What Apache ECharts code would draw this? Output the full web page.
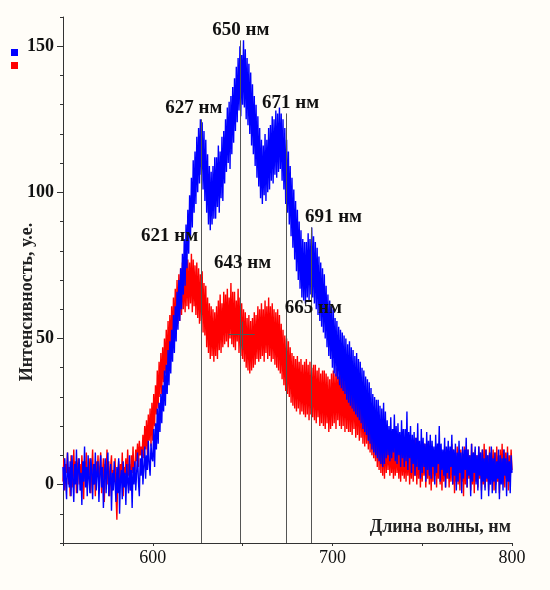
<!DOCTYPE html>
<html>
<head>
<meta charset="utf-8">
<script src="https://cdn.jsdelivr.net/npm/echarts@6/dist/echarts.min.js"></script>
<style>
  html, body { margin: 0; padding: 0; background: #fffdf8; }
  #chart { width: 550px; height: 590px; }
</style>
</head>
<body>
<div id="chart"></div>
<script>
// wavelength grid, 550..800 nm, 0.5 nm step
const wavelengths = Array.from({ length: 501 }, (_, i) => 550 + i * 0.5)

// blue spectrum (one row = 5 nm)
const blueValues = [
  6, -2, 9, 1, -5, 11, 3, -1, 8, -4,
  10, 2, -6, 7, 0, 12, -3, 5, 9, -2,
  4, -7, 8, 1, 13, -1, 6, -4, 10, 2,
  -3, 9, 5, -5, 7, 0, 11, -2, 4, 8,
  -6, 3, 10, -1, 6, -8, 2, 9, -3, 5,
  11, -4, 1, 7, -9, 4, -2, 8, 0, -6,
  6, -3, 9, -10, 2, 5, -5, 8, -1, 4,
  -7, 7, 1, -3, 10, -2, 5, -8, 6, 0,
  8, -2, 4, 11, 1, -4, 9, 3, 12, 0,
  6, 13, 2, 10, 5, 15, 7, 3, 14, 9,
  8, 19, 6, 21, 12, 26, 14, 28, 18, 31,
  21, 34, 25, 39, 27, 41, 31, 46, 34, 49,
  38, 53, 42, 58, 45, 61, 49, 66, 53, 70,
  56, 74, 60, 79, 65, 84, 68, 89, 74, 94,
  79, 99, 85, 105, 88, 111, 93, 114, 96, 119,
  100, 122, 103, 125, 106, 124, 101, 121, 97, 118,
  93, 113, 89, 109, 87, 107, 89, 109, 91, 112,
  91, 112, 95, 116, 93, 114, 98, 119, 97, 121,
  103, 125, 107, 129, 110, 131, 108, 133, 113, 136,
  117, 139, 121, 143, 124, 146, 128, 150, 126, 147,
  130, 152, 129, 149, 125, 146, 123, 144, 120, 141,
  116, 137, 113, 133, 109, 130, 105, 126, 102, 122,
  98, 118, 96, 116, 99, 120, 97, 118, 100, 122,
  101, 123, 104, 126, 103, 125, 106, 128, 105, 127,
  107, 129, 108, 127, 104, 125, 101, 122, 96, 118,
  93, 114, 89, 109, 85, 105, 81, 101, 77, 97,
  73, 94, 70, 90, 67, 87, 64, 84, 63, 83,
  62, 83, 64, 86, 63, 84, 65, 88, 64, 85,
  62, 83, 60, 81, 58, 78, 56, 76, 54, 74,
  52, 72, 50, 68, 47, 65, 44, 63, 43, 61,
  40, 60, 38, 57, 37, 56, 36, 54, 34, 53,
  33, 52, 32, 51, 31, 50, 29, 48, 28, 49,
  27, 47, 26, 46, 25, 44, 24, 45, 23, 43,
  22, 42, 21, 40, 19, 39, 18, 37, 17, 36,
  15, 35, 14, 33, 12, 31, 11, 30, 10, 29,
  9, 29, 8, 27, 7, 26, 6, 28, 7, 25,
  9, 22, 10, 20, 8, 23, 9, 19, 11, 24,
  8, 20, 7, 21, 10, 18, 6, 22, 9, 19,
  6, 19, 8, 25, 5, 18, 9, 20, 4, 17,
  7, 18, 3, 16, 6, 21, 5, 15, 2, 19,
  4, 16, 6, 14, 1, 18, 5, 15, 3, 17,
  2, 15, 6, 13, 0, 17, 4, 14, 7, 20,
  1, 14, 5, 12, 3, 16, -1, 13, 4, 15,
  2, 13, 6, 17, 0, 12, 3, 14, -2, 11,
  1, 15, 4, 11, -3, 13, 2, 12, 5, 16,
  -1, 12, 3, 10, -4, 14, 1, 11, 4, 13,
  0, 10, -2, 13, 3, 11, -5, 12, 1, 9,
  -2, 12, 2, 10, -4, 11, 0, 13, -3, 9,
  1, 11, -3, 8, 2, 12, -5, 10, 0, 9,
  -2, 12, 3, 9, -4, 11, 1, 8, -3, 10,
  4
]

// red spectrum
const redValues = [
  1, 9, -2, 7, 4, 11, 0, 6, -4, 10,
  5, -1, 12, 2, 8, -3, 6, 9, 0, 7,
  -2, 10, 4, -5, 8, 2, 11, -1, 6, 3,
  9, -3, 5, 12, 0, 7, -4, 8, 3, 10,
  -1, 6, 11, -3, 4, 9, -6, 7, 2, 12,
  0, 8, -4, 6, 10, -2, 5, 1, 9, -3,
  -12, 4, 8, -1, 7, 2, 11, -4, 6, 3,
  9, 0, 12, 3, 7, -2, 10, 4, 13, 2,
  5, 12, 8, 14, 6, 15, 10, 13, 9, 17,
  9, 20, 12, 22, 10, 24, 15, 26, 13, 28,
  15, 31, 20, 34, 24, 39, 26, 42, 30, 45,
  31, 47, 35, 50, 38, 53, 39, 56, 42, 58,
  44, 61, 48, 64, 50, 67, 53, 70, 55, 72,
  56, 74, 58, 76, 60, 75, 59, 78, 61, 77,
  60, 76, 62, 79, 59, 77, 61, 75, 58, 76,
  57, 74, 55, 72, 56, 73, 52, 69, 51, 68,
  47, 64, 45, 62, 43, 61, 44, 60, 42, 59,
  44, 61, 43, 63, 46, 65, 45, 62, 47, 66,
  48, 65, 49, 67, 47, 64, 50, 69, 48, 66,
  47, 66, 46, 63, 49, 67, 45, 64, 44, 62,
  43, 60, 42, 59, 40, 57, 39, 58, 38, 56,
  39, 57, 40, 59, 41, 58, 43, 61, 42, 60,
  43, 62, 44, 60, 42, 63, 45, 61, 43, 64,
  44, 61, 42, 62, 43, 60, 41, 59, 40, 60,
  39, 58, 38, 55, 36, 53, 34, 51, 32, 50,
  31, 49, 30, 47, 28, 45, 27, 44, 26, 43,
  25, 44, 26, 42, 24, 43, 25, 41, 24, 42,
  23, 43, 24, 41, 22, 42, 24, 40, 23, 41,
  22, 41, 21, 39, 23, 40, 20, 38, 21, 39,
  20, 39, 19, 38, 21, 37, 18, 36, 19, 38,
  20, 39, 21, 38, 19, 40, 22, 37, 20, 39,
  19, 38, 20, 37, 18, 39, 19, 36, 18, 37,
  18, 36, 17, 37, 19, 35, 16, 34, 17, 35,
  15, 34, 16, 32, 14, 33, 13, 31, 14, 30,
  12, 30, 11, 28, 10, 27, 9, 26, 8, 25,
  6, 24, 5, 22, 4, 21, 3, 20, 2, 19,
  4, 16, 5, 17, 3, 15, 4, 14, 2, 16,
  3, 15, 4, 13, 2, 16, 1, 14, 3, 12,
  2, 14, 1, 13, 3, 15, 0, 12, 2, 14,
  1, 13, 3, 16, 0, 12, 2, 14, -1, 13,
  1, 12, 3, 14, -1, 11, 2, 13, 0, 15,
  -2, 12, 1, 10, 3, 13, -1, 11, 2, 14,
  0, 12, -2, 11, 1, 13, -1, 10, 2, 12,
  -1, 11, 1, 14, 0, 12, -3, 10, 1, 13,
  0, 11, -2, 12, 1, 10, -4, 13, 0, 11,
  -1, 12, 2, 10, -2, 14, 0, 11, -3, 12,
  1, 10, -1, 13, 2, 11, -2, 12, 0, 14,
  -1, 12, 1, 10, -2, 13, 0, 11, 2, 12,
  -2, 11, 0, 13, 1, 10, -3, 12, 1, 14,
  0, 12, -1, 11, 2, 13, -2, 10, 1, 12,
  5
]

// peak drop lines: wavelength and top of the line
const peakLineX = [626.7, 648.9, 674.4, 688.3]
const peakLineTop = [125, 152, 127, 88]

// peak labels
const peakLabels = ['650 нм', '627 нм', '671 нм', '621 нм', '643 нм', '691 нм', '665 нм']
const peakLabelPos = [[649, 155.5], [622.8, 128.8], [676.7, 130.5], [609.4, 85], [650, 75.7], [700.6, 91.4], [689.4, 60.3]]

const xTicks = [600, 700, 800]
const yTicks = [0, 50, 100, 150]

const serif = '"Liberation Serif", "Times New Roman", serif'

const chart = echarts.init(document.getElementById('chart'))

const dropLines = peakLineX.map((x, i) => [{ coord: [x, peakLineTop[i]] }, { coord: [x, -20] }])
// small cross near 650 nm
dropLines.push([{ coord: [642.2, 51.4] }, { coord: [656.7, 51.4] }])
dropLines.push([{ coord: [650, 55.8] }, { coord: [650, 46.2] }])

chart.setOption({
  backgroundColor: '#fffdf8',
  animation: false,
  legend: {
    data: ['спектр 1', 'спектр 2'],
    orient: 'vertical',
    left: 6,
    top: 44,
    itemWidth: 7,
    itemHeight: 7,
    itemGap: 6,
    icon: 'rect',
    formatter: () => '',
    textStyle: { fontSize: 1 }
  },
  grid: { left: 63, right: 38, top: 17, bottom: 47 },
  xAxis: {
    type: 'value',
    min: 550,
    max: 800,
    interval: 50,
    name: 'Длина волны, нм',
    nameLocation: 'end',
    nameGap: -1,
    nameTextStyle: {
      align: 'right',
      verticalAlign: 'bottom',
      padding: [0, 0, 7, 0],
      fontFamily: serif,
      fontWeight: 'bold',
      fontSize: 18,
      color: '#222'
    },
    axisLine: { onZero: false, lineStyle: { color: '#333', width: 1 } },
    axisTick: { length: 3, lineStyle: { color: '#333' } },
    axisLabel: {
      formatter: v => (xTicks.includes(v) ? String(v) : ''),
      fontFamily: serif,
      fontSize: 18,
      color: '#111',
      margin: 6
    },
    splitLine: { show: false }
  },
  yAxis: [{
    type: 'value',
    min: -20,
    max: 160,
    interval: 10,
    axisLine: { show: true, lineStyle: { color: '#333', width: 1 } },
    axisTick: { show: true, length: 3, lineStyle: { color: '#333' } },
    axisLabel: {
      formatter: v => (yTicks.includes(v) ? String(v) : ''),
      fontFamily: serif,
      fontWeight: 'bold',
      fontSize: 18,
      color: '#111',
      margin: 9
    },
    splitLine: { show: false }
  }, {
    // longer ticks at the labelled values
    type: 'value',
    position: 'left',
    min: -20,
    max: 160,
    axisLine: { show: false },
    axisTick: { show: true, length: 6, customValues: yTicks, lineStyle: { color: '#333' } },
    axisLabel: { show: false },
    splitLine: { show: false }
  }],
  graphic: [{
    type: 'text',
    x: 27,
    y: 302,
    rotation: Math.PI / 2,
    style: {
      text: 'Интенсивность, у.е.',
      font: 'bold 18px ' + serif,
      fill: '#222',
      align: 'center',
      verticalAlign: 'middle'
    }
  }],
  series: [{
    name: 'спектр 2',
    type: 'line',
    data: wavelengths.map((x, i) => [x, redValues[i]]),
    showSymbol: false,
    sampling: null,
    color: '#ff0000',
    lineStyle: { width: 1.4, color: '#ff0000' },
    markLine: {
      silent: true,
      symbol: 'none',
      lineStyle: { color: '#555', width: 1, type: 'solid' },
      label: { show: false },
      data: dropLines
    },
    markPoint: {
      silent: true,
      symbol: 'rect',
      symbolSize: 1,
      itemStyle: { color: 'transparent' },
      label: {
        show: true,
        position: 'inside',
        fontFamily: serif,
        fontWeight: 'bold',
        fontSize: 19,
        color: '#111'
      },
      data: peakLabels.map((t, i) => ({ coord: peakLabelPos[i], value: t }))
    }
  }, {
    name: 'спектр 1',
    type: 'line',
    data: wavelengths.map((x, i) => [x, blueValues[i]]),
    showSymbol: false,
    sampling: null,
    color: '#0000ff',
    lineStyle: { width: 1.4, color: '#0000ff' }
  }]
})
</script>
</body>
</html>
